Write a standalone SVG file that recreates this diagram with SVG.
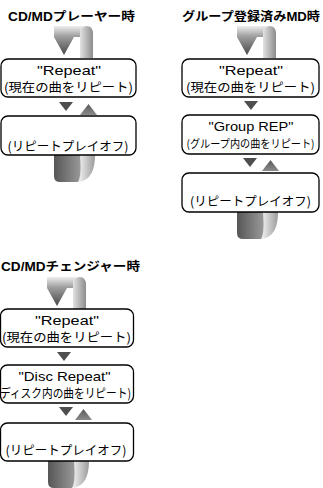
<svg xmlns="http://www.w3.org/2000/svg" width="323" height="488" viewBox="0 0 323 488">
<defs>
<style>
.title{font-family:"Liberation Sans","Noto Sans CJK JP",sans-serif;font-size:12px;font-weight:bold;fill:#000}
.t{font-family:"Liberation Sans","Noto Sans CJK JP",sans-serif;font-size:13.5px;fill:#000;text-anchor:middle}
.j{font-family:"Noto Sans CJK JP",sans-serif;font-size:12.5px;fill:#000;text-anchor:middle}
.box{fill:#fff;stroke:#000;stroke-width:1.3}
.tri-d{fill:#4e4e4e}
.tri-u{fill:url(#gUp)}
</style>
<linearGradient id="gBand" x1="0" y1="0" x2="0" y2="1">
<stop offset="0" stop-color="#eeeeee"/><stop offset="0.35" stop-color="#a0a0a0"/><stop offset="1" stop-color="#484848"/>
</linearGradient>
<linearGradient id="gStrip" x1="0" y1="0" x2="1" y2="0">
<stop offset="0" stop-color="#e2e2e2"/><stop offset="1" stop-color="#8c8c8c"/>
</linearGradient>
<linearGradient id="gDark" x1="0" y1="0" x2="1" y2="0">
<stop offset="0" stop-color="#565656"/><stop offset="1" stop-color="#999999"/>
</linearGradient>
<linearGradient id="gLight" x1="0" y1="0" x2="1" y2="0">
<stop offset="0" stop-color="#f4f4f4"/><stop offset="1" stop-color="#9c9c9c"/>
</linearGradient>
<linearGradient id="gUp" x1="0" y1="0" x2="0" y2="1">
<stop offset="0" stop-color="#5a5a5a"/><stop offset="1" stop-color="#8a8a8a"/>
</linearGradient>
<g id="topArrow">
<path d="M26,32 V8 Q26,0 32.5,0 Q39,0 39,8 V32 Z" fill="url(#gStrip)"/>
<path d="M0,0 H32 Q26,0 26,8 V11 H20 L10,29 L0,11 Z" fill="url(#gBand)"/>
</g>
<g id="botArrow">
<path d="M26,0 H41 C41,14 37,26 24,27 C27,22 27,12 26,0 Z" fill="url(#gLight)"/>
<path d="M0,0 H26 C27,12 27,22 24,27 H6 Q0,27 0,21 Z" fill="url(#gDark)"/>
</g>
<path id="triD" d="M0,0 H14 L7,9 Z"/>
<path id="triU" d="M8.5,0 L17,11 H0 Z"/>
</defs>

<g id="panel1">
<text class="title" x="8" y="21" textLength="127" lengthAdjust="spacingAndGlyphs">CD/MDプレーヤー時</text>
<g id="connectors1">
<use href="#topArrow" x="54" y="26"/>
<use href="#triD" class="tri-d" x="59" y="102"/>
<use href="#triU" class="tri-u" x="80" y="104"/>
<use href="#botArrow" x="54" y="155"/>
</g>
<g id="p1-repeat">
<rect class="box" x="1" y="59" width="135" height="38" rx="7"/>
<text class="t" x="69" y="75" textLength="64" lengthAdjust="spacingAndGlyphs">"Repeat"</text>
<text class="j" x="68.5" y="92" textLength="129" lengthAdjust="spacingAndGlyphs">(現在の曲をリピート)</text>
</g>
<g id="p1-off">
<rect class="box" x="1" y="116" width="135" height="39" rx="7"/>
<text class="j" x="68" y="151" textLength="121" lengthAdjust="spacingAndGlyphs">(リピートプレイオフ)</text>
</g>
</g>

<g id="panel2">
<text class="title" x="182" y="21" textLength="138" lengthAdjust="spacingAndGlyphs">グループ登録済みMD時</text>
<g id="connectors2">
<use href="#topArrow" x="237" y="26"/>
<use href="#triD" class="tri-d" x="244" y="101"/>
<use href="#triD" class="tri-d" x="243" y="158"/>
<use href="#triU" class="tri-u" x="262" y="160"/>
<use href="#botArrow" x="237" y="212"/>
</g>
<g id="p2-repeat">
<rect class="box" x="182" y="59" width="137" height="38" rx="7"/>
<text class="t" x="251" y="75" textLength="64" lengthAdjust="spacingAndGlyphs">"Repeat"</text>
<text class="j" x="250.5" y="92" textLength="129" lengthAdjust="spacingAndGlyphs">(現在の曲をリピート)</text>
</g>
<g id="p2-group">
<rect class="box" x="182" y="115" width="137" height="39" rx="7"/>
<text class="t" x="251" y="131" textLength="85" lengthAdjust="spacingAndGlyphs">"Group REP"</text>
<text class="j" x="250.5" y="148" style="font-size:11px" textLength="128" lengthAdjust="spacingAndGlyphs">(グループ内の曲をリピート)</text>
</g>
<g id="p2-off">
<rect class="box" x="182" y="173" width="137" height="39" rx="7"/>
<text class="j" x="250.5" y="206" textLength="121" lengthAdjust="spacingAndGlyphs">(リピートプレイオフ)</text>
</g>
</g>

<g id="panel3">
<text class="title" x="1" y="271" textLength="139" lengthAdjust="spacingAndGlyphs">CD/MDチェンジャー時</text>
<g id="connectors3">
<use href="#topArrow" x="47" y="277"/>
<use href="#triD" class="tri-d" x="57" y="352"/>
<use href="#triD" class="tri-d" x="59" y="407"/>
<use href="#triU" class="tri-u" x="75" y="409"/>
<use href="#botArrow" x="48" y="461"/>
</g>
<g id="p3-repeat">
<rect class="box" x="0.5" y="309" width="133" height="38" rx="7"/>
<text class="t" x="67" y="325" textLength="64" lengthAdjust="spacingAndGlyphs">"Repeat"</text>
<text class="j" x="66.5" y="342" textLength="129" lengthAdjust="spacingAndGlyphs">(現在の曲をリピート)</text>
</g>
<g id="p3-disc">
<rect class="box" x="0.5" y="365" width="133" height="38" rx="7"/>
<text class="t" x="64.5" y="381" textLength="92" lengthAdjust="spacingAndGlyphs">"Disc Repeat"</text>
<text class="j" x="65.5" y="398" textLength="131" lengthAdjust="spacingAndGlyphs">ディスク内の曲をリピート)</text>
</g>
<g id="p3-off">
<rect class="box" x="0.5" y="423" width="133" height="38" rx="7"/>
<text class="j" x="66" y="455" textLength="121" lengthAdjust="spacingAndGlyphs">(リピートプレイオフ)</text>
</g>
</g>
</svg>
